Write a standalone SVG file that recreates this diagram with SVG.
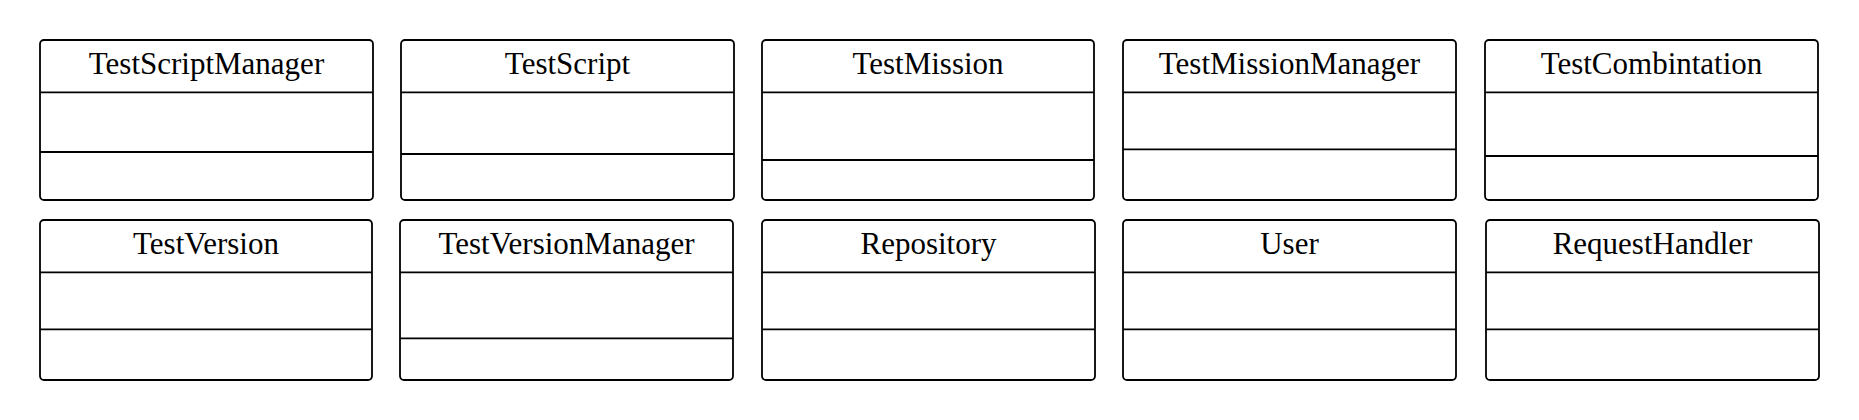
<svg xmlns="http://www.w3.org/2000/svg" width="1859" height="420" viewBox="0 0 1859 420">
<style>
.box{fill:#fff;stroke:#000;stroke-width:1.8}
.ln{stroke:#000;stroke-width:1.8}
.t{font-family:"Liberation Serif",serif;font-size:31px;fill:#000;text-anchor:middle}
</style>
<rect width="1859" height="420" fill="#fff"/>
<g id="TestScriptManager"><rect class="box" x="40" y="40" width="333" height="160" rx="4"/><line class="ln" x1="40" y1="92.3" x2="373" y2="92.3"/><line class="ln" x1="40" y1="152" x2="373" y2="152"/><text class="t" x="206.5" y="73.5">TestScriptManager</text></g>
<g id="TestScript"><rect class="box" x="401" y="40" width="333" height="160" rx="4"/><line class="ln" x1="401" y1="92.3" x2="734" y2="92.3"/><line class="ln" x1="401" y1="154" x2="734" y2="154"/><text class="t" x="567.5" y="73.5">TestScript</text></g>
<g id="TestMission"><rect class="box" x="762" y="40" width="332" height="160" rx="4"/><line class="ln" x1="762" y1="92.3" x2="1094" y2="92.3"/><line class="ln" x1="762" y1="160" x2="1094" y2="160"/><text class="t" x="928" y="73.5">TestMission</text></g>
<g id="TestMissionManager"><rect class="box" x="1123" y="40" width="333" height="160" rx="4"/><line class="ln" x1="1123" y1="92.3" x2="1456" y2="92.3"/><line class="ln" x1="1123" y1="149.3" x2="1456" y2="149.3"/><text class="t" x="1289.5" y="73.5">TestMissionManager</text></g>
<g id="TestCombintation"><rect class="box" x="1485" y="40" width="333" height="160" rx="4"/><line class="ln" x1="1485" y1="92.3" x2="1818" y2="92.3"/><line class="ln" x1="1485" y1="156" x2="1818" y2="156"/><text class="t" x="1651.5" y="73.5">TestCombintation</text></g>
<g id="TestVersion"><rect class="box" x="40" y="220" width="332" height="160" rx="4"/><line class="ln" x1="40" y1="272.3" x2="372" y2="272.3"/><line class="ln" x1="40" y1="329.3" x2="372" y2="329.3"/><text class="t" x="206" y="253.5">TestVersion</text></g>
<g id="TestVersionManager"><rect class="box" x="400" y="220" width="333" height="160" rx="4"/><line class="ln" x1="400" y1="272.3" x2="733" y2="272.3"/><line class="ln" x1="400" y1="338.3" x2="733" y2="338.3"/><text class="t" x="566.5" y="253.5">TestVersionManager</text></g>
<g id="Repository"><rect class="box" x="762" y="220" width="333" height="160" rx="4"/><line class="ln" x1="762" y1="272.3" x2="1095" y2="272.3"/><line class="ln" x1="762" y1="329.3" x2="1095" y2="329.3"/><text class="t" x="928.5" y="253.5">Repository</text></g>
<g id="User"><rect class="box" x="1123" y="220" width="333" height="160" rx="4"/><line class="ln" x1="1123" y1="272.3" x2="1456" y2="272.3"/><line class="ln" x1="1123" y1="329.3" x2="1456" y2="329.3"/><text class="t" x="1289.5" y="253.5">User</text></g>
<g id="RequestHandler"><rect class="box" x="1486" y="220" width="333" height="160" rx="4"/><line class="ln" x1="1486" y1="272.3" x2="1819" y2="272.3"/><line class="ln" x1="1486" y1="329.3" x2="1819" y2="329.3"/><text class="t" x="1652.5" y="253.5">RequestHandler</text></g>
<g id="connectors"></g>
</svg>
